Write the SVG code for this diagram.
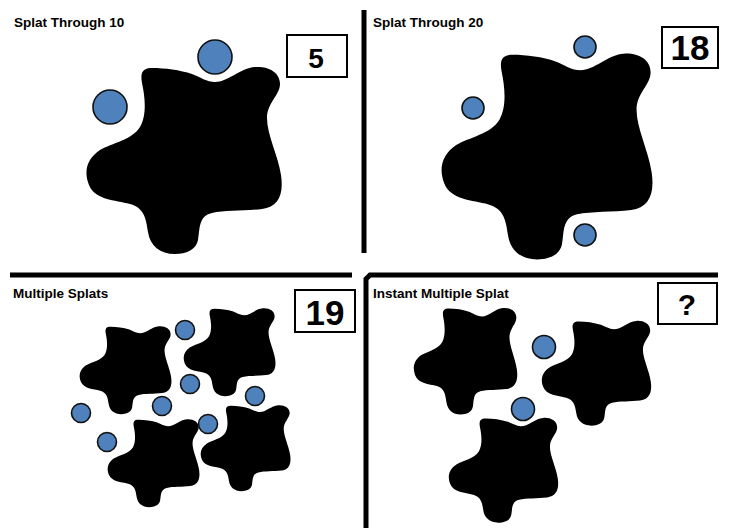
<svg xmlns="http://www.w3.org/2000/svg" xmlns:xlink="http://www.w3.org/1999/xlink" width="730" height="528" viewBox="0 0 730 528">
<style>
.title{font-family:"Liberation Sans",Arial,sans-serif;font-weight:bold;font-size:13.5px;fill:#000}
.num{font-family:"Liberation Sans",Arial,sans-serif;font-weight:bold;fill:#000;text-anchor:middle}
.box{fill:#fff;stroke:#000;stroke-width:2}
.dot{fill:#4F81BD;stroke:#111;stroke-width:1.6}
.blob{fill:#000}
.div{stroke:#000;stroke-width:5;fill:none}
</style>
<defs>
<path id="splat" class="blob" d="M -43,-77 C -45,-88 -42,-92 -33,-92 C -20,-92 -5,-90 7,-86 C 15,-83 22,-78 30,-78 C 43,-78 55,-92 70,-93 C 83,-94 95,-88 95,-76 C 95,-65 82,-57 82,-42 C 82,-25 93,-5 96,15 C 99,35 93,47 77,49 C 60,51 40,50 27,53 C 13,56 15,70 13,80 C 11,90 1,94 -10,94 C -25,94 -35,86 -37,72 C -39,58 -41,48 -55,44 C -70,40 -90,40 -96,25 C -102,10 -97,-2 -85,-10 C -73,-17 -53,-20 -45,-33 C -38,-45 -40,-63 -43,-77 Z"/>
</defs>
<rect width="730" height="528" fill="#fff"/>

<g id="dividers">
<line class="div" x1="364" y1="10" x2="364" y2="253"/>
<line class="div" x1="10" y1="275" x2="352" y2="275"/>
<polyline class="div" points="366,528 366,279 370,275 718,275"/>
</g>

<g id="panel-splat-through-10">
<text class="title" x="14" y="27">Splat Through 10</text>
<use xlink:href="#splat" transform="translate(185,160)"/>
<circle class="dot" cx="215" cy="57" r="17"/>
<circle class="dot" cx="110" cy="107" r="17"/>
<rect class="box" x="287" y="35" width="60" height="42"/>
<text class="num" x="316" y="68" font-size="28">5</text>
</g>

<g id="panel-splat-through-20">
<text class="title" x="373" y="27">Splat Through 20</text>
<use xlink:href="#splat" transform="translate(548,156) scale(1.08,1.1)"/>
<circle class="dot" cx="585" cy="47" r="11"/>
<circle class="dot" cx="473" cy="108" r="11"/>
<circle class="dot" cx="585" cy="235" r="11"/>
<rect class="box" x="662" y="27" width="56" height="41"/>
<text class="num" x="690" y="60" font-size="35">18</text>
</g>

<g id="panel-multiple-splats">
<text class="title" x="13" y="298">Multiple Splats</text>
<use xlink:href="#splat" transform="translate(126,370) scale(0.47)"/>
<use xlink:href="#splat" transform="translate(230,352) scale(0.47)"/>
<use xlink:href="#splat" transform="translate(154,463) scale(0.47)"/>
<use xlink:href="#splat" transform="translate(246,448) scale(0.46)"/>
<circle class="dot" cx="185" cy="330" r="9.5"/>
<circle class="dot" cx="190" cy="384" r="9.5"/>
<circle class="dot" cx="162" cy="406" r="9.5"/>
<circle class="dot" cx="81" cy="413" r="9.5"/>
<circle class="dot" cx="107" cy="442" r="9.5"/>
<circle class="dot" cx="208" cy="424" r="9.5"/>
<circle class="dot" cx="255" cy="396" r="9.5"/>
<rect class="box" x="295" y="290" width="60" height="42"/>
<text class="num" x="325" y="325" font-size="35">19</text>
</g>

<g id="panel-instant-multiple-splat">
<text class="title" x="373" y="298">Instant Multiple Splat</text>
<use xlink:href="#splat" transform="translate(466,361) scale(0.53,0.57)"/>
<use xlink:href="#splat" transform="translate(597,373) scale(0.56)"/>
<use xlink:href="#splat" transform="translate(504,470) scale(0.56)"/>
<circle class="dot" cx="544" cy="347" r="11.5"/>
<circle class="dot" cx="523" cy="409" r="11.5"/>
<rect class="box" x="658" y="283" width="59" height="41"/>
<text class="num" x="687" y="315" font-size="30">?</text>
</g>
</svg>
